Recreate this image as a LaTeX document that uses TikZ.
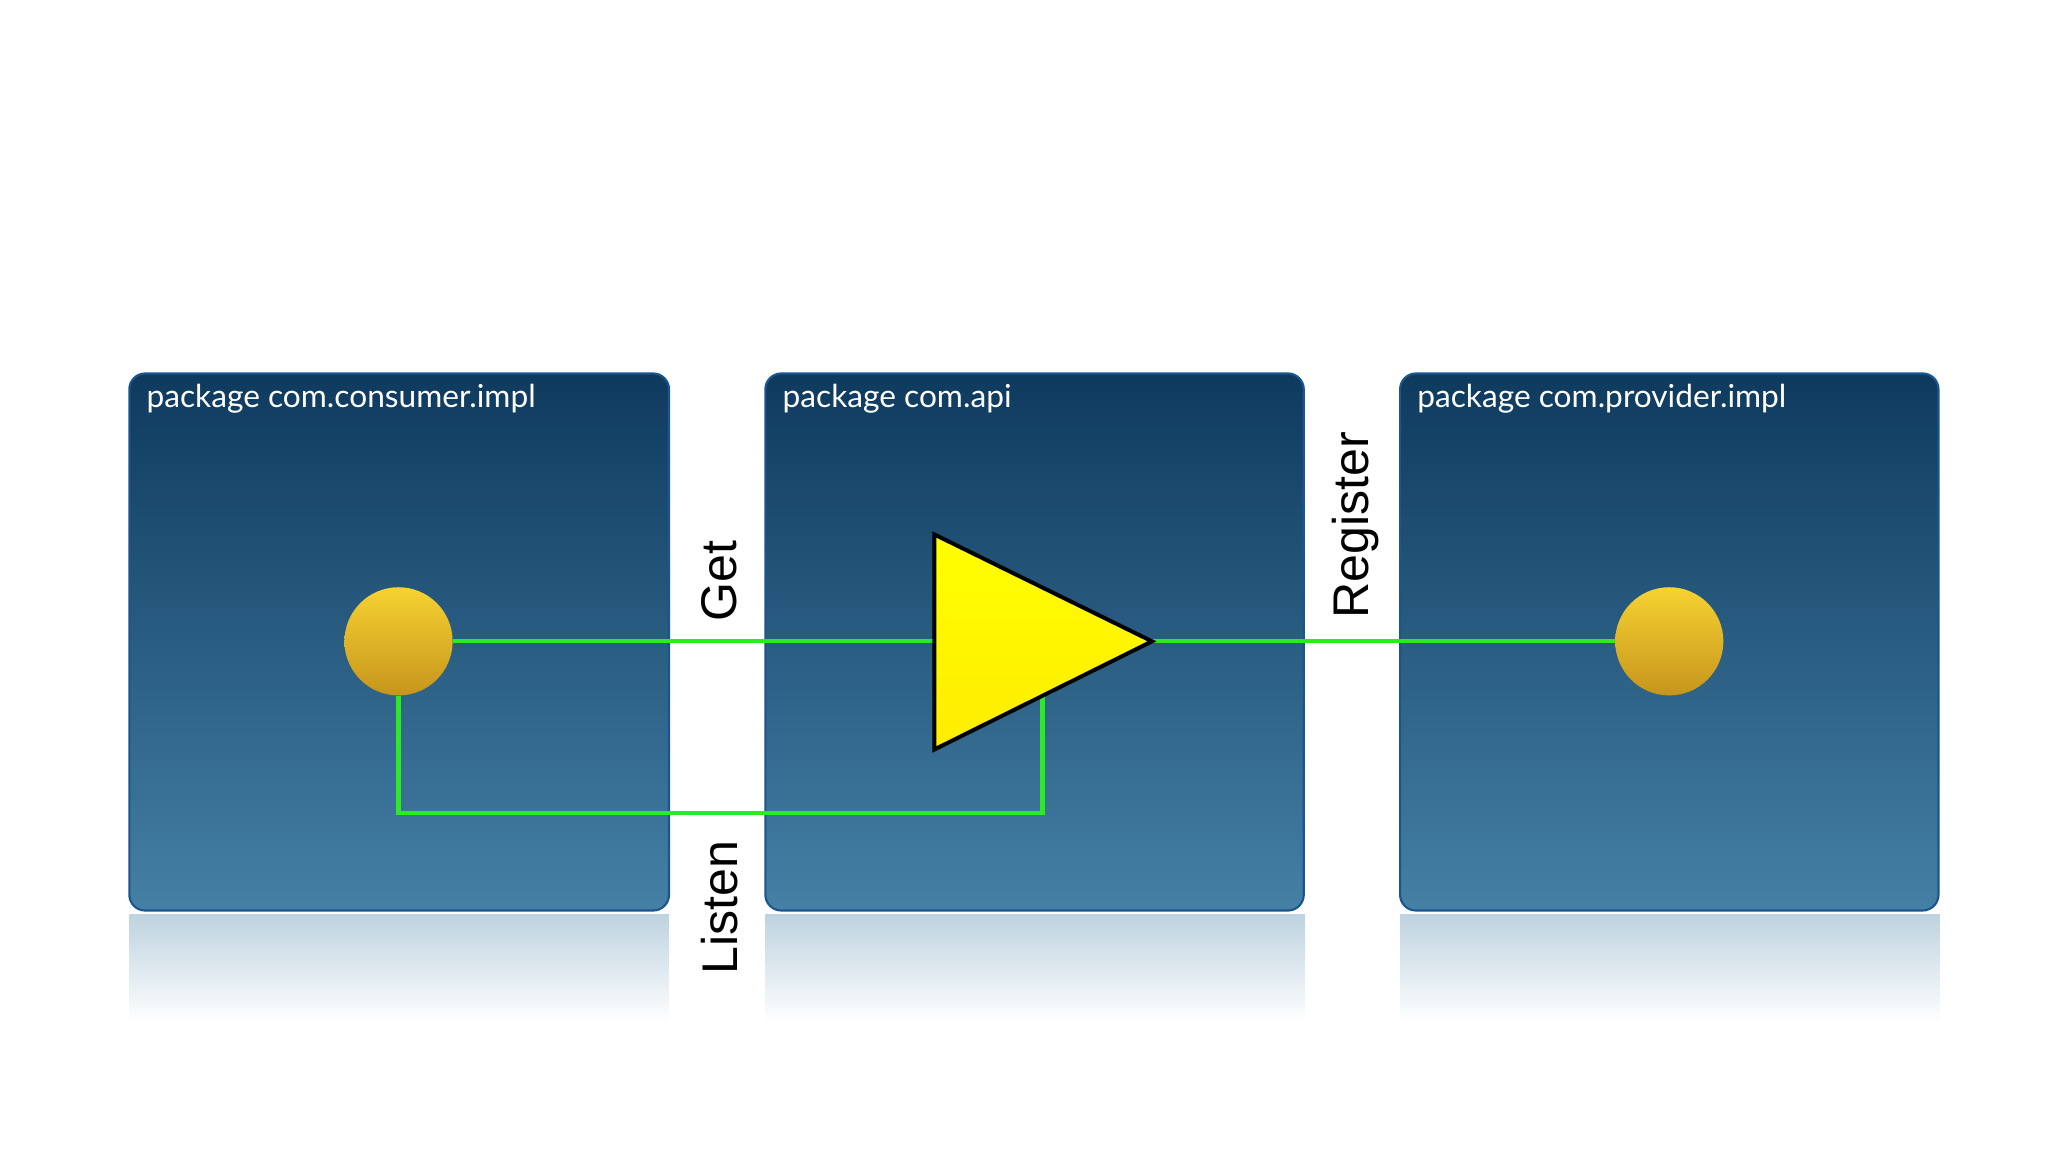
\documentclass[tikz,border=0pt]{standalone}
\usepackage{fontspec}
\setmainfont{Lato}
\newfontfamily\lab{Liberation Sans}
\begin{document}
\begin{tikzpicture}[x=0.5pt,y=-0.5pt,
  pkg/.style={draw=boxline,line width=0.8pt,rounded corners=6pt,top color=boxtop,bottom color=boxbot},
  refl/.style={top color=boxbot!35,bottom color=white,draw=none},
  ball/.style={circle,minimum size=41pt,inner sep=0pt,top color=balltop,bottom color=ballbot},
  wire/.style={draw=wiregreen,line width=1.6pt},
  ttl/.style={anchor=west,text=white,font=\fontsize{12}{14}\selectfont},
  lbl/.style={rotate=90,font=\lab\fontsize{19}{22}\selectfont}]
\definecolor{boxtop}{HTML}{0E3A5E}
\definecolor{boxbot}{HTML}{4580A5}
\definecolor{boxline}{HTML}{1A5590}
\definecolor{balltop}{HTML}{F6D232}
\definecolor{ballbot}{HTML}{C6951C}
\definecolor{wiregreen}{HTML}{2CEB22}
\useasboundingbox (0,0) rectangle (1552,873);
\foreach \x in {98,580,1061}{
  \shade[refl] (\x,693) rectangle (\x+409,775);
}
\draw[pkg] (98,283) rectangle (507,690);
\draw[pkg] (580,283) rectangle (988,690);
\draw[pkg] (1061,283) rectangle (1469,690);
\node[ttl] (t1) at (104,302) {package com.consumer.impl};
\node[ttl] (t2) at (586,302) {package com.api};
\node[ttl] (t3) at (1067,302) {package com.provider.impl};
\node[ball] (c1) at (302,486) {};
\node[ball] (c2) at (1265,486) {};
\coordinate (ta) at (708,405);
\coordinate (tb) at (708,568);
\coordinate (tip) at (873,486);
\coordinate (tl) at (708,486);
\coordinate (lb) at (790,527);
\coordinate (c1b) at (302,616);
\coordinate (lr) at (790,616);
\draw[wire] (c1.east) -- (tl);
\draw[wire] (tip) -- (c2.west);
\draw[wire] (c1.south) -- (c1b) -- (lr) -- (lb);
\shade[top color=yellow,bottom color=yellow!85!orange,draw=black,line width=1.5pt,line join=miter] (ta) -- (tip) -- (tb) -- cycle;
\node[lbl] (get) at (545,440) {Get};
\node[lbl] (listen) at (545,688) {Listen};
\node[lbl] (reg) at (1027,398) {Register};
\end{tikzpicture}
\end{document}
